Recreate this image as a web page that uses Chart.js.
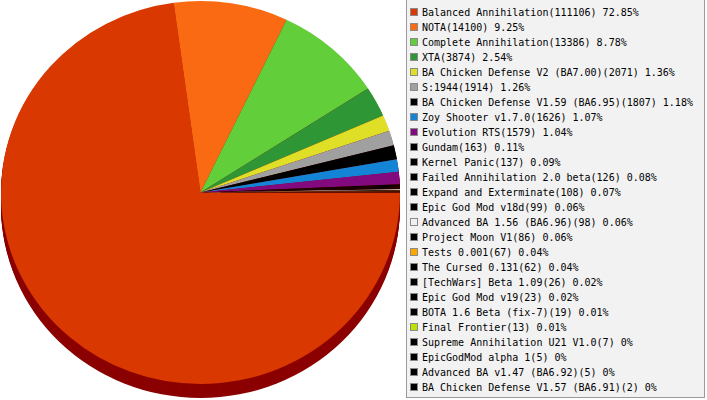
<!DOCTYPE html>
<html>
<head>
<meta charset="utf-8">
<script src="https://cdn.jsdelivr.net/npm/chart.js@4/dist/chart.umd.min.js"></script>
<style>
  html, body { margin:0; padding:0; background:#fff; }
  #wrap { position:relative; width:707px; height:400px; overflow:hidden; }
  #c { position:absolute; left:0; top:0; }
  #legend { position:absolute; left:406px; top:-1px; width:299px; height:399px;
            border:1px solid #9a9a9a; background:#f2f2f2; box-sizing:border-box; }
  #legend ul { list-style:none; margin:0; padding:0; position:absolute; left:3px; top:5px; }
  #legend li { height:15px; line-height:15px; white-space:nowrap;
               font-family:"DejaVu Sans Mono", monospace; font-size:10px; color:#000; }
  #legend .sw { display:inline-block; width:6px; height:6px; border:1px solid #8a8a8a;
                vertical-align:middle; margin:-2px 4px 0 0; }
</style>
</head>
<body>
<div id="wrap">
  <canvas id="c" width="707" height="400"></canvas>
  <div id="legend"><ul id="items"></ul></div>
</div>
<script>
const labels = [
  "Balanced Annihilation", "NOTA", "Complete Annihilation", "XTA",
  "BA Chicken Defense V2 (BA7.00)", "S:1944", "BA Chicken Defense V1.59 (BA6.95)",
  "Zoy Shooter v1.7.0", "Evolution RTS", "Gundam", "Kernel Panic",
  "Failed Annihilation 2.0 beta", "Expand and Exterminate", "Epic God Mod v18d",
  "Advanced BA 1.56 (BA6.96)", "Project Moon V1", "Tests 0.001", "The Cursed 0.131",
  "[TechWars] Beta 1.09", "Epic God Mod v19", "BOTA 1.6 Beta (fix-7)", "Final Frontier",
  "Supreme Annihilation U21 V1.0", "EpicGodMod alpha 1", "Advanced BA v1.47 (BA6.92)",
  "BA Chicken Defense V1.57 (BA6.91)"
];
const counts = [111106, 14100, 13386, 3874, 2071, 1914, 1807, 1626, 1579, 163, 137,
  126, 108, 99, 98, 86, 67, 62, 26, 23, 19, 13, 7, 5, 5, 2];
const percents = ["72.85", "9.25", "8.78", "2.54", "1.36", "1.26", "1.18", "1.07", "1.04",
  "0.11", "0.09", "0.08", "0.07", "0.06", "0.06", "0.06", "0.04", "0.04", "0.02", "0.02",
  "0.01", "0.01", "0", "0", "0", "0"];
const colors = ["#d93800", "#fa6a12", "#62ce3a", "#2e9634", "#e0df27", "#a0a0a0", "#000000",
  "#1484d6", "#820a7e", "#000000", "#000000", "#000000", "#000000", "#000000", "#f0f0f0",
  "#000000", "#ffa500", "#000000", "#000000", "#000000", "#000000", "#bfe000", "#000000",
  "#000000", "#000000", "#000000"];
const depthColor = "#8b0000";
const depthPx = 14;
const stretchX = 199.5 / 191.5;

// legend
const ul = document.getElementById('items');
labels.forEach((l, i) => {
  const li = document.createElement('li');
  const sw = document.createElement('span');
  sw.className = 'sw';
  sw.style.background = colors[i];
  li.appendChild(sw);
  li.appendChild(document.createTextNode(l + "(" + counts[i] + ") " + percents[i] + "%"));
  ul.appendChild(li);
});

const pie3d = {
  id: 'pie3d',
  beforeDatasetsDraw(chart) {
    const arc = chart.getDatasetMeta(0).data[0];
    const x = arc.x, y = arc.y, r = arc.outerRadius;
    const ctx = chart.ctx;
    ctx.save();
    ctx.translate(x, y);
    ctx.scale(stretchX, 1);
    ctx.translate(-x, -y);
    ctx.fillStyle = depthColor;
    for (let d = depthPx; d > 0; d--) {
      ctx.beginPath();
      ctx.arc(x, y + d, r, 0, Math.PI * 2);
      ctx.fill();
    }
  },
  afterDatasetsDraw(chart) {
    chart.ctx.restore();
  }
};

new Chart(document.getElementById('c'), {
  type: 'pie',
  data: {
    labels: labels,
    datasets: [{
      data: counts,
      backgroundColor: colors,
      borderWidth: 0,
      clip: false
    }]
  },
  options: {
    responsive: false,
    animation: false,
    rotation: 90,
    layout: { padding: { left: 1, right: 307, top: 1, bottom: 16 } },
    plugins: {
      legend: { display: false },
      tooltip: { enabled: false }
    }
  },
  plugins: [pie3d]
});
</script>
</body>
</html>
